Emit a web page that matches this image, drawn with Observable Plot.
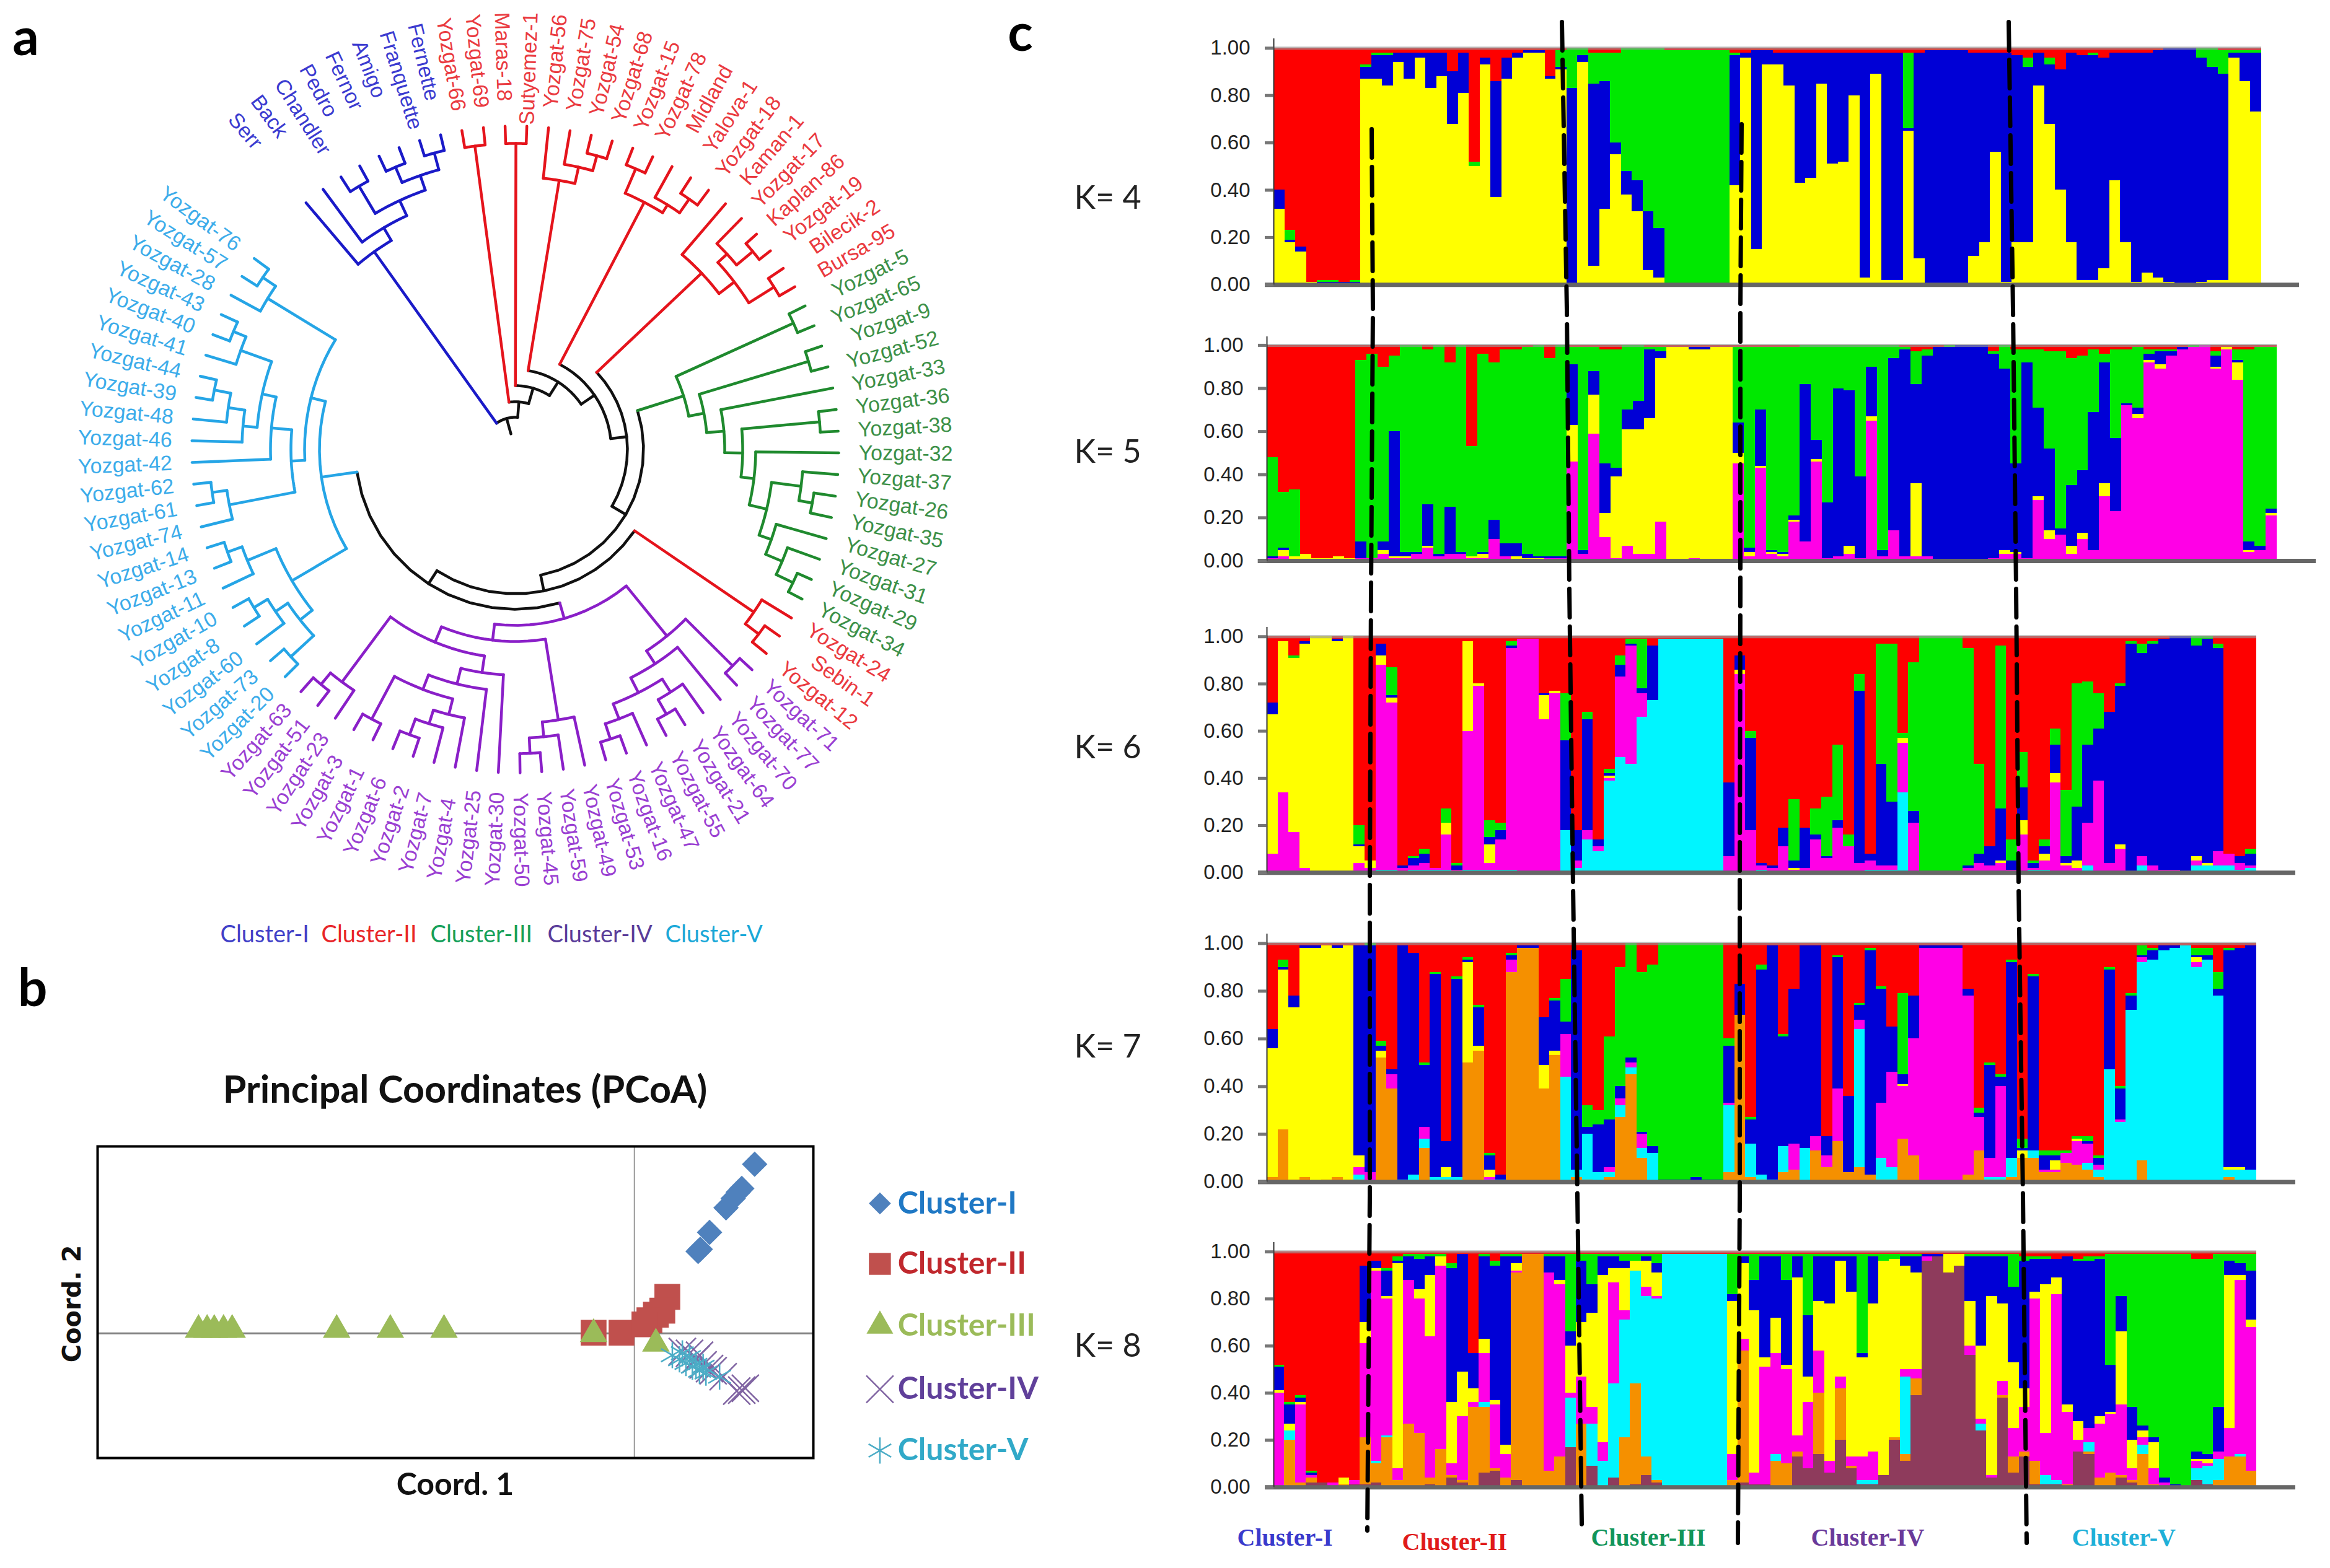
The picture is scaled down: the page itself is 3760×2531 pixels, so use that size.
<!DOCTYPE html>
<html><head><meta charset="utf-8">
<script src="https://cdn.jsdelivr.net/npm/d3@7"></script>
<script src="https://cdn.jsdelivr.net/npm/@observablehq/plot@0.6"></script>
<style>html,body{margin:0;background:#fff}#page{position:relative;width:3760px;height:2531px;overflow:hidden;background:#fff}svg{position:absolute;max-width:none!important;height:auto;overflow:visible!important;background:transparent!important}</style>
</head><body><div id="page"></div>
<script>
// ---------- Panel a: tree topology, [node radius, child, child], leaves are names
const blueClade=[392,"Serr",[416,"Back",[443,[494,"Chandler","Pedro"],[468,[495,"Fernor","Amigo"],[496,"Franquette","Fernette"]]]]];
const redA=[494,"Yozgat-66","Yozgat-69"];
const redB=[494,"Maras-18","Sutyemez-1"];
const redC=[440,"Yozgat-56",[467,"Yozgat-75",[492,"Yozgat-54","Yozgat-68"]]];
const redD=[450,[493,"Yozgat-15","Yozgat-78"],[465,"Midland",[492,"Yalova-1","Yozgat-18"]]];
const redE=[414,"Kaman-1",[445,[465,"Yozgat-17",[499,"Kaplan-86","Yozgat-19"]],[493,"Bilecik-2","Bursa-95"]]];
const greenClade=[285,[493,"Yozgat-5","Yozgat-65"],[310,[494,"Yozgat-9","Yozgat-52"],[338,"Yozgat-33",[367,[493,"Yozgat-36","Yozgat-38"],[388,"Yozgat-32",[417,[465,"Yozgat-37",[487,"Yozgat-26","Yozgat-35"]],[438,"Yozgat-27",[467,"Yozgat-31",[497,"Yozgat-29","Yozgat-34"]]]]]]]]];
const redF=[466,"Yozgat-24",[493,"Sebin-1","Yozgat-12"]];
const purpleClade=[284,
 [388,[495,"Yozgat-71","Yozgat-77"],[413,"Yozgat-70",[440,[465,"Yozgat-64",[492,"Yozgat-21","Yozgat-55"]],[466,"Yozgat-47",[492,"Yozgat-16","Yozgat-53"]]]]],
 [310,[442,"Yozgat-49",[466,"Yozgat-59",[491,"Yozgat-45","Yozgat-50"]]],
  [337,[364,"Yozgat-30",[390,"Yozgat-25",[415,[441,"Yozgat-4",[464,"Yozgat-7",[491,"Yozgat-2","Yozgat-6"]]],[493,"Yozgat-1","Yozgat-3"]]]],
   [468,"Yozgat-23",[492,"Yozgat-51","Yozgat-63"]]]]];
const skyClade=[316,
 [418,[443,[493,"Yozgat-20","Yozgat-73"],[467,"Yozgat-60",[493,"Yozgat-8","Yozgat-10"]]],[468,"Yozgat-11",[493,"Yozgat-13","Yozgat-14"]]],
 [340,[362,[470,"Yozgat-74",[494,"Yozgat-61","Yozgat-62"]],[395,"Yozgat-42",[418,[441,"Yozgat-46",[468,"Yozgat-48",[495,"Yozgat-39","Yozgat-44"]]],[471,"Yozgat-41",[493,"Yozgat-40","Yozgat-43"]]]]],
  [468,"Yozgat-28",[493,"Yozgat-57","Yozgat-76"]]]];
const treeColors={black:"#111111",blue:"#1a1ac8",red:"#e5141c",green:"#1f8a2e",purple:"#8a1fc8",sky:"#25a5e6"};
const labelColors={blue:"#3b3bd0",red:"#ea3a40",green:"#3c9048",purple:"#9a3fd2",sky:"#3cacea"};
const tag=(c,col)=>({clade:c,col});
const backbone=[52,tag(blueClade,"blue"),[77,tag(redA,"red"),[103,tag(redB,"red"),[129,tag(redC,"red"),[155,tag(redD,"red"),[181,tag(redE,"red"),[207,tag(greenClade,"green"),[233,tag(redF,"red"),[258,tag(purpleClade,"purple"),tag(skyClade,"sky")]]]]]]]]];
const rootRadius=26, tipRadius=522, labelRadius=706, firstAngle=-40.3, angleStep=3.85;

// ---------- Panel b: principal coordinates
const clusterI=[[.168,.543],[.150,.465],[.145,.453],[.138,.433],[.128,.403],[.105,.324],[.089,.263],[.092,.270]];
const clusterII=[[-.057,.002],[-.018,.002],[.046,.117],[.039,.073],[.030,.060],[.021,.042],[.014,.029]];
const clusterIII=[[-.609,.011],[-.597,.011],[-.587,.011],[-.574,.011],[-.562,.011],[-.416,.011],[-.341,.011],[-.266,.011],[-.057,-.002],[.030,-.033]];
const clusterIV=[[.150,-.182],[.143,-.185],[.155,-.176],[.124,-.139],[.110,-.120],[.105,-.113],[.096,-.101],[.091,-.070],[.086,-.083],[.077,-.064],[.067,-.058]];
const clusterV=[[.053,-.070],[.063,-.083],[.067,-.064],[.072,-.095],[.077,-.076],[.081,-.107],[.086,-.101],[.091,-.120],[.096,-.107],[.100,-.126],[.119,-.139]];
const legendNames=["Cluster-I","Cluster-II","Cluster-III","Cluster-IV","Cluster-V"];
const legendY=[.417,.223,.024,-.179,-.376];
const legendText=["#1f78c4","#c0282d","#9bbb59","#60409a","#31a9c8"];

// ---------- Panel c: cumulative tops (percent) per individual, stack order bottom to top; the last colour fills to 100
const RED="#fe0000",YEL="#ffff00",BLU="#0000d6",GRN="#00e800",MAG="#ff00e6",CYA="#00f5ff",ORA="#f59000",PLU="#8e3b5c";
const k4Order=[YEL,BLU,GRN,RED];
const k4Tops=[[32,40,40],[18,19,23],[14,16,16],[1,1,1],[0,1,2],[0,1,2],[0,1,1],[0,1,2],[87,92,93],[87,97,98],
[84,97,98],[94,98,98],[87,98,98],[96,98,98],[83,98,98],[88,98,98],[68,90,90],[81,98,98],[50,50,52],[93,96,96],
[37,86,86],[87,96,96],[96,98,98],[98,99,99],[98,99,99],[87,88,88],[91,92,99],[0,83,100],[94,97,100],[8,85,98],
[32,86,98],[55,60,98],[38,48,100],[31,44,100],[6,31,100],[3,24,100],[0,0,99],[0,0,99],[0,0,99],[0,0,99],
[0,0,99],[0,0,99],[42,97,98],[96,98,98],[15,99,99],[93,99,99],[93,98,98],[84,98,98],[43,98,98],[45,98,98],
[85,98,98],[51,98,98],[52,98,98],[80,98,98],[3,98,98],[89,98,98],[2,98,98],[2,98,98],[65,66,98],[11,98,98],
[0,99,99],[0,99,99],[0,99,99],[0,99,99],[12,98,98],[18,98,98],[56,98,98],[1,98,98],[18,97,97],[18,92,96],
[84,98,98],[68,93,96],[40,91,91],[18,98,98],[2,97,97],[2,97,98],[7,96,96],[44,98,98],[18,98,98],[1,98,98],
[5,98,98],[3,99,99],[1,100,100],[0,100,100],[0,100,100],[1,96,100],[2,92,100],[2,89,99],[96,98,99],[86,98,99],[73,98,99]];
const k5Order=[MAG,YEL,BLU,GRN,RED];
const k5Tops=[[1,1,2,48],[2,5,6,32],[0,2,2,33],[0,3,3,3],[0,1,1,1],[0,1,1,1],[0,2,2,2],[0,1,1,1],[1,1,9,93],[1,1,1,96],
[3,5,9,90],[1,2,60,95],[1,2,4,100],[3,3,4,100],[6,7,26,98],[2,2,3,100],[3,3,25,92],[3,3,4,100],[1,2,2,53],[1,3,4,96],
[10,10,19,92],[2,2,8,98],[0,2,8,98],[0,1,3,99],[0,1,2,100],[1,1,2,94],[1,1,2,100],[46,63,91,99],[3,3,5,99],[59,77,88,99],
[11,22,45,98],[1,39,43,98],[7,61,70,100],[3,61,74,100],[3,66,98,99],[18,94,97,99],[0,99,99,99],[0,99,99,99],[1,98,99,99],[0,98,99,99],
[0,99,99,99],[0,99,99,99],[45,50,64,99],[2,4,6,99],[43,44,70,99],[3,4,5,99],[2,3,4,99],[18,19,21,99],[9,9,82,100],[46,47,56,100],
[1,1,27,100],[2,2,80,100],[3,7,79,100],[1,1,39,100],[65,67,90,100],[2,2,5,100],[14,14,94,100],[2,2,98,99],[2,36,82,97],[2,2,95,98],
[0,0,99,99],[0,0,99,100],[0,0,100,100],[0,0,100,100],[0,0,100,100],[1,1,96,97],[3,5,89,100],[3,4,45,98],[1,1,92,98],[28,30,71,98],
[10,14,52,97],[12,12,15,97],[3,7,35,94],[10,13,42,95],[5,5,69,98],[30,36,92,96],[23,23,57,98],[72,72,73,98],[66,68,71,99],[92,93,96,98],
[89,91,97,98],[95,95,97,98],[98,98,99,99],[99,99,99,100],[100,100,100,100],[89,90,95,97],[98,99,99,99],[84,92,93,98],[4,5,9,98],[5,5,7,99],[21,22,24,99]];
const k6Order=[CYA,MAG,YEL,BLU,GRN,RED];
const k6Tops=[[0,8,67,72,72],[0,34,98,98,98],[0,17,91,91,92],[0,2,97,98,98],[0,0,100,100,100],[0,0,100,100,100],[0,0,98,99,99],[0,0,100,100,100],[0,4,11,12,20],[0,2,5,5,5],
[1,88,92,97,97],[1,72,74,75,87],[0,2,2,3,3],[1,3,3,6,7],[1,4,4,8,10],[1,2,2,2,2],[1,16,21,21,27],[0,1,1,3,4],[1,60,98,98,98],[1,79,80,80,80],
[1,4,12,15,22],[1,14,14,18,21],[1,95,95,96,98],[0,99,99,99,99],[0,99,99,99,99],[0,65,75,76,76],[0,76,77,77,77],[18,18,18,56,76],[2,5,5,18,18],[14,18,18,65,68],
[9,11,11,14,14],[39,40,41,42,44],[49,83,83,88,92],[46,96,96,97,99],[66,76,76,78,99],[73,73,73,96,96],[99,99,99,99,99],[99,99,99,99,99],[99,99,99,99,99],[99,99,99,99,99],
[99,99,99,99,99],[99,99,99,99,99],[0,7,7,38,38],[0,84,86,92,92],[0,18,18,57,60],[1,3,3,4,4],[0,2,2,3,3],[0,11,11,19,19],[0,1,2,5,31],[0,2,2,19,19],
[0,14,14,16,27],[0,6,6,7,32],[0,19,19,22,54],[0,11,11,11,16],[0,4,4,77,84],[1,5,5,8,8],[1,3,3,46,97],[1,3,3,30,97],[34,55,57,57,59],[0,21,21,26,89],
[0,0,0,0,100],[0,0,0,0,100],[0,0,0,0,100],[0,0,0,0,100],[0,2,2,3,95],[0,4,4,8,46],[0,3,3,11,11],[0,4,5,27,96],[0,1,1,5,14],[0,16,22,36,51],
[1,2,2,4,5],[1,5,8,11,14],[0,38,42,54,61],[0,3,4,7,35],[0,2,5,28,80],[3,21,21,54,81],[0,39,39,61,76],[0,4,4,68,68],[0,10,12,79,80],[0,0,0,97,98],
[3,7,7,93,97],[0,3,3,97,98],[0,1,1,99,99],[0,1,1,100,100],[0,0,0,100,100],[3,5,7,96,100],[3,3,4,99,100],[3,9,9,95,97],[3,8,8,8,8],[1,4,4,7,7],[2,3,3,8,10]];
const k7Order=[ORA,CYA,MAG,YEL,BLU,GRN,RED];
const k7Tops=[[2,2,2,56,64,64],[22,22,22,89,90,93],[1,1,1,73,78,78],[2,2,2,98,99,99],[0,0,0,98,99,99],[1,1,1,99,99,99],[2,2,2,98,99,99],[1,1,1,99,99,99],[1,3,6,11,99,99],[0,0,4,4,99,100],
[52,52,52,55,57,59],[39,39,45,45,47,47],[0,1,1,1,99,99],[0,3,3,3,96,96],[14,18,23,23,49,50],[0,2,2,2,87,88],[1,2,2,6,17,17],[0,2,2,2,85,86],[50,50,50,92,93,94],[55,55,55,57,73,74],
[0,1,2,5,11,12],[0,1,1,1,3,3],[88,88,93,93,95,96],[98,98,98,98,99,99],[98,98,98,98,99,99],[39,39,39,49,69,69],[53,53,53,55,76,77],[0,44,62,62,67,85],[2,5,5,5,97,97],[1,20,20,20,23,32],
[0,4,4,4,24,30],[2,4,6,6,26,61],[27,32,35,35,40,90],[45,48,50,50,52,100],[10,14,20,20,21,88],[0,12,12,12,15,91],[0,0,0,0,1,100],[0,0,0,0,1,100],[0,0,0,0,1,100],[0,0,0,0,2,100],
[0,0,0,0,1,100],[0,0,0,0,1,100],[4,32,33,33,57,60],[70,70,70,70,83,83],[2,16,16,16,26,27],[1,3,3,3,89,91],[0,1,1,1,99,99],[4,15,15,15,61,62],[5,5,16,16,81,81],[0,14,14,14,99,99],
[13,13,19,19,99,99],[6,6,11,11,19,19],[17,17,39,39,94,95],[4,4,4,4,36,36],[6,64,68,68,74,75],[3,3,3,3,97,98],[1,10,33,33,81,82],[1,6,46,46,65,65],[18,18,40,41,45,79],[11,11,60,60,78,78],
[0,0,98,98,99,99],[0,0,98,98,99,99],[0,0,98,98,99,99],[0,0,98,98,99,99],[3,3,78,78,81,81],[13,13,27,27,29,31],[1,2,10,10,49,50],[1,2,40,40,44,45],[2,10,10,10,92,93],[10,10,10,13,14,18],
[10,13,13,13,86,87],[4,4,5,5,11,13],[4,4,5,9,11,13],[8,8,12,12,12,13],[7,7,17,18,18,19],[5,8,16,16,17,19],[2,5,7,7,10,11],[0,47,47,47,89,90],[0,25,26,26,39,40],[0,72,72,72,78,79],
[9,92,94,94,95,99],[0,93,93,93,97,98],[0,97,97,97,99,99],[0,98,98,98,99,99],[0,99,99,99,99,99],[0,90,92,94,95,98],[0,93,93,93,95,98],[0,78,78,78,81,88],[2,5,5,6,97,98],[0,5,5,6,98,98],[0,5,5,5,99,99]];
const k8Order=[PLU,ORA,CYA,MAG,YEL,BLU,GRN,RED];
const k8Tops=[[0,0,0,40,41,51,52],[0,20,24,24,27,35,36],[0,2,2,35,36,38,39],[2,4,4,5,5,6,7],[2,2,2,2,2,2,2],[0,0,0,2,2,2,2],[0,1,1,1,4,4,4],[1,1,1,3,3,3,3],[1,21,21,61,70,94,94],[2,10,11,92,93,96,96],
[0,21,22,80,81,92,93],[0,3,3,8,95,96,98],[0,27,27,88,88,98,99],[0,23,23,80,84,97,99],[1,4,4,64,90,98,99],[0,16,16,94,98,98,99],[4,5,5,10,36,93,95],[2,3,3,30,49,99,99],[0,34,34,36,42,57,57],[6,34,36,57,63,98,99],
[7,8,8,35,37,94,96],[0,4,4,14,18,98,99],[3,91,91,92,95,98,99],[0,99,99,99,99,99,99],[0,99,99,99,99,99,99],[0,7,7,91,91,98,99],[0,13,13,86,88,98,99],[17,17,38,40,60,66,99],[0,27,27,47,70,96,99],[9,9,27,34,74,86,99],
[0,0,11,19,90,98,99],[4,4,44,87,93,98,99],[0,21,71,75,93,96,99],[1,44,92,92,96,96,99],[5,13,81,85,96,98,99],[2,3,80,81,91,95,99],[0,0,99,99,99,99,99],[0,0,99,99,99,99,99],[0,0,99,99,99,99,99],[0,0,99,99,99,99,99],
[0,0,99,99,99,99,99],[0,0,99,99,99,99,99],[0,3,3,14,79,82,99],[2,58,58,63,95,98,99],[1,1,1,6,75,88,99],[1,1,1,51,55,98,99],[0,11,14,57,72,98,99],[0,10,10,50,52,88,99],[13,15,15,22,89,98,99],[8,8,8,36,47,73,99],
[14,40,40,58,79,98,99],[6,6,6,11,78,98,99],[20,42,42,47,96,98,99],[8,9,9,13,83,98,99],[1,1,3,13,55,57,99],[1,1,3,15,78,98,99],[5,5,5,5,96,96,99],[20,21,21,21,97,97,99],[11,14,47,50,94,98,99],[39,46,46,50,91,98,99],
[96,96,96,98,98,99,99],[98,98,98,98,98,99,99],[91,91,91,91,99,99,99],[94,94,94,94,99,99,99],[56,56,56,60,79,98,99],[24,24,27,29,60,98,99],[4,4,4,5,81,98,99],[38,39,39,45,78,98,99],[6,13,13,25,53,85,99],[13,15,15,34,42,96,98],
[1,11,11,80,83,97,98],[1,1,5,23,86,97,98],[1,1,3,82,89,97,97],[0,1,1,32,35,98,98],[15,15,15,20,28,96,97],[14,15,19,25,25,96,98],[0,4,4,27,30,97,98],[0,6,6,31,32,52,99],[4,5,5,35,66,81,99],[2,3,3,8,20,34,99],
[0,14,18,21,24,26,99],[0,1,1,8,19,21,99],[0,0,0,2,2,4,99],[0,0,0,0,0,1,99],[0,0,0,0,0,0,99],[3,3,8,11,12,15,97],[1,1,9,10,12,14,97],[0,3,12,15,15,34,99],[0,13,13,25,90,96,99],[0,13,14,88,90,95,99],[0,7,7,68,71,92,99]];
const tickValues=[0,.2,.4,.6,.8,1];

// ---------- Annotations on the whole page
const divider1=[[2213,208],[2215,500],[2212,950],[2210,1430],[2210,1930],[2206,2470]];
const divider2=[[2520,35],[2528,500],[2532,950],[2538,1430],[2545,1930],[2552,2460]];
const divider3=[[2810,200],[2808,500],[2808,950],[2807,1430],[2807,1930],[2804,2490]];
const divider4=[[3241,35],[3248,500],[3253,950],[3257,1430],[3264,1930],[3270,2490]];
const panelLetters=[["a",41,62],["b",52,1597],["c",1646,55]];
const kLabels=[["K= 4",1733,320],["K= 5",1733,730],["K= 6",1733,1207],["K= 7",1733,1690],["K= 8",1733,2173]];
const treeLegend=[["Cluster-I",355,"#4040c8"],["Cluster-II",518,"#e8252a"],["Cluster-III",694,"#15a05a"],["Cluster-IV",883,"#5a3d9a"],["Cluster-V",1073,"#1aa8d8"]];
const structLegend=[["Cluster-I",1996,2482,"#3a3acc"],["Cluster-II",2262,2489,"#e01a1a"],["Cluster-III",2567,2482,"#12955a"],["Cluster-IV",2922,2482,"#6a3a9a"],["Cluster-V",3343,2482,"#1fb0d8"]];

const page=document.getElementById("page");
function place(svg,left,top){svg.style.left=left+"px";svg.style.top=top+"px";page.appendChild(svg);}

// ---------- Tree layout
let leafIndex=0;
const branches=[],leaves=[];
const toRad=a=>a*Math.PI/180;
const X=(r,a)=>r*Math.sin(toRad(a)), Y=(r,a)=>-r*Math.cos(toRad(a));
function layout(n,col){
  if(typeof n==="string"){const a=firstAngle+angleStep*leafIndex++;leaves.push({name:n,a,col});return {a,r:tipRadius,col};}
  if(n.clade) {return layout(n.clade,n.col);}
  const [r,...kids]=n;
  const ks=kids.map(k=>layout(k,col));
  const a0=ks[0].a,a1=ks[ks.length-1].a;
  const arc=[];for(let t=0;t<=12;t++)arc.push(a0+(a1-a0)*t/12);
  branches.push({col,pts:arc.map(a=>[X(r,a),Y(r,a)])});
  ks.forEach(k=>branches.push({col:k.col,pts:[[X(r,k.a),Y(r,k.a)],[X(k.r,k.a),Y(k.r,k.a)]]}));
  return {a:(a0+a1)/2,r,col};
}
const rootNode=layout(backbone,"black");
branches.push({col:"black",pts:[[X(rootRadius,rootNode.a),Y(rootRadius,rootNode.a)],[X(rootNode.r,rootNode.a),Y(rootNode.r,rootNode.a)]]});
const treePts=branches.flatMap((b,i)=>b.pts.map(p=>({id:i,x:p[0],y:p[1],stroke:treeColors[b.col]})));
const labelData=leaves.map(l=>{const norm=((l.a%360)+360)%360;const right=norm<180;return {...l,right,x:X(labelRadius,l.a),y:Y(labelRadius,l.a),rotate:right?norm-90:norm+90,fill:labelColors[l.col]};});
const textOpts={text:"name",x:"x",y:"y",rotate:"rotate",fill:"fill",fontSize:34,fontFamily:"Liberation Sans"};
place(Plot.plot({width:1650,height:1480,margin:0,
  x:{domain:[-831,819],axis:null},y:{domain:[-725,755],range:[0,1480],axis:null},color:{type:"identity"},
  marks:[
    Plot.line(treePts,{x:"x",y:"y",z:"id",stroke:"stroke",strokeWidth:4.5,strokeLinejoin:"round",strokeLinecap:"round"}),
    Plot.text(labelData.filter(d=>d.right),{...textOpts,textAnchor:"end"}),
    Plot.text(labelData.filter(d=>!d.right),{...textOpts,textAnchor:"start"})
  ]}),0,0);

// ---------- Panel b
const ptXY={x:d=>d[0],y:d=>d[1]};
const legendX=.343,legendTextX=.368;
const lg=legendNames.map((name,i)=>({name,y:legendY[i],fill:legendText[i]}));
place(Plot.plot({width:1155+400,height:503,marginLeft:0,marginRight:400,marginTop:0,marginBottom:0,
  x:{domain:[-.75,.25],axis:null},y:{domain:[-.4,.6],axis:null},color:{type:"identity"},
  marks:[
    Plot.ruleY([0],{stroke:"#808080",strokeWidth:3}),
    Plot.ruleX([0],{stroke:"#999",strokeWidth:2}),
    Plot.frame({stroke:"#000",strokeWidth:4}),
    Plot.dot(clusterI,{...ptXY,symbol:"diamond2",r:18.5,fill:"#4f81bd"}),
    Plot.dot(clusterII,{...ptXY,symbol:"square",r:23.5,fill:"#c0504d"}),
    Plot.dot(clusterIII,{...ptXY,symbol:"triangle",r:16.5,fill:"#9bbb59"}),
    Plot.dot(clusterIV,{...ptXY,symbol:"times",r:20,stroke:"#8064a2",strokeWidth:2.5}),
    Plot.dot(clusterV,{...ptXY,symbol:"asterisk",r:20,stroke:"#4bacc6",strokeWidth:2.5}),
    Plot.dot([lg[0]],{x:()=>legendX,y:"y",symbol:"diamond2",r:16,fill:"#4f81bd"}),
    Plot.dot([lg[1]],{x:()=>legendX,y:"y",symbol:"square",r:20,fill:"#c0504d"}),
    Plot.dot([lg[2]],{x:()=>legendX,y:"y",symbol:"triangle",r:16,fill:"#9bbb59"}),
    Plot.dot([lg[3]],{x:()=>legendX,y:"y",symbol:"times",r:20,stroke:"#8064a2",strokeWidth:2.5}),
    Plot.dot([lg[4]],{x:()=>legendX,y:"y",symbol:"asterisk",r:20,stroke:"#4bacc6",strokeWidth:2.5}),
    Plot.text(lg,{x:()=>legendTextX,y:"y",text:"name",fill:"fill",textAnchor:"start",fontSize:50,fontFamily:"Lato",fontWeight:700})
  ]}),157,1850);

// ---------- Panel c
const panels=[
 {tops:k4Tops,order:k4Order,left:2055,right:3649,end:3710,top:77,bottom:459},
 {tops:k5Tops,order:k5Order,left:2044,right:3674,end:3737,top:557,bottom:905},
 {tops:k6Tops,order:k6Order,left:2044,right:3641,end:3704,top:1027,bottom:1408},
 {tops:k7Tops,order:k7Order,left:2044,right:3641,end:3704,top:1522,bottom:1907},
 {tops:k8Tops,order:k8Order,left:2055,right:3641,end:3704,top:2020,bottom:2400}
];
for(const p of panels){
  const rows=[];
  p.tops.forEach((t,bar)=>{let prev=0;p.order.forEach((fill,i)=>{const top=i<t.length?Math.max(prev,t[i]):100;if(top>prev)rows.push({bar,start:prev/100,end:top/100,fill});prev=top;});});
  const n=p.tops.length,bw=(p.right-p.left)/n,mL=110,mT=20,mB=15,hp=p.bottom-p.top,over=.04;
  const xEnd=(p.end-p.left)/bw;
  place(Plot.plot({width:mL+p.end-p.left,height:mT+mB+hp*(1+over),marginLeft:mL,marginRight:0,marginTop:mT,marginBottom:mB,
    x:{domain:[0,xEnd],axis:null},y:{domain:[0,1+over],axis:null},color:{type:"identity"},
    marks:[
      Plot.rect(rows,{x1:"bar",x2:d=>d.bar+1,y1:"start",y2:"end",fill:"fill",shapeRendering:"crispEdges"}),
      Plot.ruleY([1],{x1:0,x2:n,stroke:"#9a9a9a",strokeOpacity:.65,strokeWidth:5}),
      Plot.ruleY([0],{x1:-.8,x2:xEnd,stroke:"#666",strokeWidth:7}),
      Plot.ruleX([0],{y1:0,y2:1+over,stroke:"#333",strokeWidth:2}),
      Plot.axisY({ticks:tickValues,tickFormat:".2f",tickSize:14,tickPadding:24,fontSize:33,fontFamily:"Liberation Sans",stroke:"#777",strokeWidth:5,label:null,color:"#222"})
    ]}),p.left-mL,p.top-hp*over-mT);
}

// ---------- Page annotations
const dividers=[divider1,divider2,divider3,divider4].flatMap((d,id)=>d.map(([x,y])=>({id,x,y})));
const tx=(arr,o)=>Plot.text(arr,o);
place(Plot.plot({width:3760,height:2531,margin:0,x:{domain:[0,3760],axis:null},y:{domain:[0,2531],range:[0,2531],axis:null},color:{type:"identity"},
  marks:[
    Plot.line(dividers,{x:"x",y:"y",z:"id",stroke:"#000",strokeWidth:7,strokeDasharray:"46,15"}),
    tx(panelLetters,{x:d=>d[1],y:d=>d[2],text:d=>d[0],fontSize:84,fontFamily:"Lato",fontWeight:700,fill:"#000"}),
    tx(kLabels,{x:d=>d[1],y:d=>d[2],text:d=>d[0],fontSize:52,fontFamily:"Lato",textAnchor:"start",fill:"#222"}),
    tx(treeLegend,{x:d=>d[1],y:()=>1508,text:d=>d[0],fill:d=>d[2],fontSize:38,fontFamily:"Lato",textAnchor:"start"}),
    tx(structLegend,{x:d=>d[1],y:d=>d[2],text:d=>d[0],fill:d=>d[3],fontSize:40,fontWeight:700,fontFamily:"Liberation Serif",textAnchor:"start"}),
    tx([["Principal Coordinates (PCoA)"]],{x:()=>750,y:()=>1760,text:d=>d[0],fontSize:61,fontWeight:700,fontFamily:"Lato",fill:"#111"}),
    tx([["Coord. 1"]],{x:()=>734,y:()=>2396,text:d=>d[0],fontSize:50,fontWeight:700,fontFamily:"Lato",fill:"#111"}),
    tx([["Coord. 2"]],{x:()=>117,y:()=>2104,rotate:-90,text:d=>d[0],fontSize:40,fontWeight:700,fontFamily:"DejaVu Sans",fill:"#111"})
  ]}),0,0);
</script></body></html>
